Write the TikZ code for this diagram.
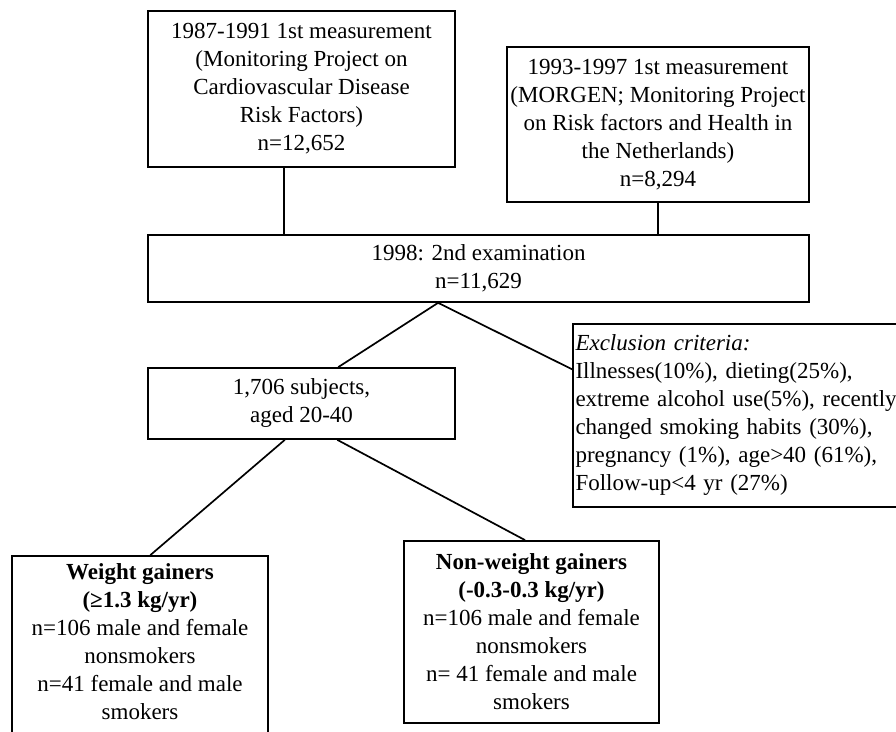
\documentclass[tikz,border=0pt]{standalone}
\usepackage{fontspec}
\setmainfont{Liberation Serif}
\usetikzlibrary{calc}

\begin{document}
\begin{tikzpicture}[x=0.5pt, y=-0.5pt,
  study/.style={draw, line width=0.85pt, align=center, inner sep=1pt, font=\fontsize{11.5}{14}\selectfont},
  crit/.style={study, align=left, text width=166pt},
  link/.style={line width=0.85pt}
]
\useasboundingbox (0,0) rectangle (896,732);
\clip (0,0) rectangle (896,732);
\node[study, minimum width=153.5pt, minimum height=78pt] (first) at (301.5,89) {1987-1991 1st measurement\\(Monitoring Project on\\Cardiovascular Disease\\Risk Factors)\\n=12,652};
\node[study, minimum width=151pt, minimum height=77.5pt] (second) at (658,124.5) {1993-1997 1st measurement\\(MORGEN; Monitoring Project\\on Risk factors and Health in\\the Netherlands)\\n=8,294};
\node[study, minimum width=330.5pt, minimum height=33.5pt] (exam) at (478.5,268.5) {1998: 2nd examination\\n=11,629};
\node[study, minimum width=153.5pt, minimum height=35.5pt] (sample) at (301.5,403.5) {1,706 subjects,\\aged 20-40};
\node[crit, minimum width=168.5pt, minimum height=91.5pt] (excl) at (741.5,415.5) {\textit{Exclusion criteria:}\\Illnesses(10\%), dieting(25\%),\\extreme alcohol use(5\%), recently\\changed smoking habits (30\%),\\pregnancy (1\%), age>40 (61\%),\\Follow-up<4 yr (27\%)};
\node[study, minimum width=128pt, minimum height=99.5pt, text depth=14pt] (gain) at (140,655.5) {\textbf{Weight gainers}\\\textbf{(≥1.3 kg/yr)}\\n=106 male and female\\nonsmokers\\n=41 female and male\\smokers};
\node[study, minimum width=127.5pt, minimum height=91pt] (nogain) at (531.5,632) {\textbf{Non-weight gainers}\\\textbf{(-0.3-0.3 kg/yr)}\\n=106 male and female\\nonsmokers\\n= 41 female and male\\smokers};

\draw[link] ($(first.south west)!0.443!(first.south east)$) coordinate (fa) -- (fa |- exam.north);
\draw[link] (second.south) -- (second.south |- exam.north);
\draw[link] ($(exam.south west)!0.439!(exam.south east)$) -- ($(sample.north west)!0.619!(sample.north east)$);
\draw[link] ($(exam.south west)!0.439!(exam.south east)$) -- ($(excl.north west)!0.25!(excl.south west)$);
\draw[link] ($(sample.south west)!0.446!(sample.south east)$) -- ($(gain.north west)!0.54!(gain.north east)$);
\draw[link] ($(sample.south west)!0.616!(sample.south east)$) -- ($(nogain.north west)!0.475!(nogain.north east)$);
\end{tikzpicture}
\end{document}
